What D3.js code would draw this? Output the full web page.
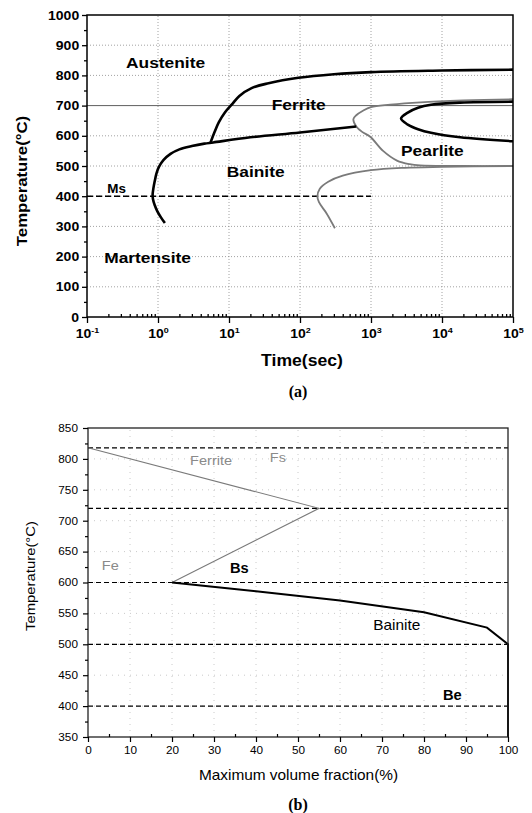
<!DOCTYPE html>
<html>
<head>
<meta charset="utf-8">
<script src="https://cdn.jsdelivr.net/npm/d3@7"></script>
<style>
  body { margin: 0; background: #fff; }
  svg { display: block; }
</style>
</head>
<body>
<svg id="chart" width="532" height="813"></svg>
<script>
// ---- (a) transformation diagram: time (s) / temperature (°C) ----
const timeTicks = [0.1, 1, 10, 100, 1000, 10000, 100000];
const timeTickExp = ["-1", "0", "1", "2", "3", "4", "5"];
const tempTicksA = [0, 100, 200, 300, 400, 500, 600, 700, 800, 900, 1000];

const bainiteStartTime = [1.25, 1.1, 0.98, 0.9, 0.85, 0.84, 0.86, 0.9, 0.95, 1.03, 1.2, 1.5, 2, 3, 4.5, 6, 20, 100, 620];
const bainiteStartTemp = [311, 330, 350, 370, 390, 405, 425, 450, 475, 497, 520, 540, 555, 566, 574, 578, 595, 611, 631];

const ferriteStartTime = [5.5, 6.2, 7.2, 8.8, 10.9, 14, 20.8, 36, 95, 300, 1000, 10000, 100000];
const ferriteStartTemp = [578, 610, 645, 678, 703, 732, 758, 774, 792, 804, 811, 816, 819];

const pearliteStartTime = [100000, 20000, 5000, 1860, 1000, 770, 620, 565, 620, 750, 975, 1480, 2320, 3500, 4900, 20000, 100000];
const pearliteStartTemp = [721, 717, 711, 703, 695, 683, 668, 655, 631, 613, 597, 550, 518, 506, 502, 500, 500];

const pearliteFinishTime = [100000, 18000, 7000, 4600, 3300, 2650, 3300, 4600, 7000, 18000, 100000];
const pearliteFinishTemp = [713, 710, 703, 693, 677, 657, 637, 622, 610, 595, 582];

const bainiteFinishTime = [310, 237, 185, 176, 190, 250, 400, 1000, 3000, 10000, 100000];
const bainiteFinishTemp = [294, 343, 380, 400, 425, 448, 468, 486, 494, 497, 500];

const msTemp = 400;
const msEndTime = 1000;

// ---- (b) maximum volume fraction / temperature ----
const fractionTicks = [0, 10, 20, 30, 40, 50, 60, 70, 80, 90, 100];
const tempTicksB = [350, 400, 450, 500, 550, 600, 650, 700, 750, 800, 850];
const boundaryTemps = [818, 720, 600, 500, 400];

const ferriteFraction = [0, 55, 20];
const ferriteTemp = [818, 720, 600];

const bainiteFraction = [20, 40, 60, 80, 95, 100, 100];
const bainiteTemp = [600, 586, 571, 552, 527, 500, 350];

const svg = d3.select("#chart");
const SANS = "'Liberation Sans', Arial, Helvetica, sans-serif";
const SERIF = "'Liberation Serif', 'Times New Roman', serif";
const zip = (a, b) => a.map((v, i) => [v, b[i]]);

function label(g, x, y, text, size, weight, fill, sx) {
  return g.append("text")
    .attr("transform", `translate(${x},${y}) scale(${sx || 1.12},1)`)
    .attr("font-family", SANS)
    .attr("font-size", size)
    .attr("font-weight", weight)
    .attr("fill", fill)
    .text(text);
}

// ================= panel (a) =================
const xA = d3.scaleLog().domain([0.1, 100000]).range([87, 513]);
const yA = d3.scaleLinear().domain([0, 1000]).range([317, 15]);
const gA = svg.append("g");

// grid
gA.selectAll(".vgrid").data(timeTicks.slice(1, -1)).join("line")
  .attr("x1", d => xA(d)).attr("x2", d => xA(d))
  .attr("y1", yA(0)).attr("y2", yA(1000))
  .attr("stroke", "#8a8a8a").attr("stroke-width", 0.8).attr("stroke-dasharray", "1,2");
gA.selectAll(".hgrid").data(tempTicksA.slice(1, -1)).join("line")
  .attr("x1", xA(0.1)).attr("x2", xA(100000))
  .attr("y1", d => yA(d)).attr("y2", d => yA(d))
  .attr("stroke", d => d === 700 ? "#333" : "#8a8a8a")
  .attr("stroke-width", 0.8)
  .attr("stroke-dasharray", d => d === 700 ? null : "1,2");

// Ms line
gA.append("line")
  .attr("x1", xA(0.1)).attr("x2", xA(msEndTime))
  .attr("y1", yA(msTemp)).attr("y2", yA(msTemp))
  .attr("stroke", "#000").attr("stroke-width", 1.4).attr("stroke-dasharray", "6,3");

const lineA = d3.line().x(d => xA(d[0])).y(d => yA(d[1])).curve(d3.curveCatmullRom.alpha(0.5));

gA.append("path").datum(zip(pearliteStartTime, pearliteStartTemp))
  .attr("d", lineA).attr("fill", "none").attr("stroke", "#7a7a7a").attr("stroke-width", 1.8);
gA.append("path").datum(zip(bainiteFinishTime, bainiteFinishTemp))
  .attr("d", lineA).attr("fill", "none").attr("stroke", "#7a7a7a").attr("stroke-width", 1.8);
gA.append("path").datum(zip(bainiteStartTime, bainiteStartTemp))
  .attr("d", lineA).attr("fill", "none").attr("stroke", "#000").attr("stroke-width", 2.6);
gA.append("path").datum(zip(ferriteStartTime, ferriteStartTemp))
  .attr("d", lineA).attr("fill", "none").attr("stroke", "#000").attr("stroke-width", 2.6);
gA.append("path").datum(zip(pearliteFinishTime, pearliteFinishTemp))
  .attr("d", lineA).attr("fill", "none").attr("stroke", "#000").attr("stroke-width", 2.6);

// frame
gA.append("rect")
  .attr("x", xA(0.1)).attr("y", yA(1000))
  .attr("width", xA(100000) - xA(0.1)).attr("height", yA(0) - yA(1000))
  .attr("fill", "none").attr("stroke", "#000").attr("stroke-width", 1.5);

// axes
const axA = gA.append("g").attr("transform", `translate(0,${yA(0)})`)
  .call(d3.axisBottom(xA).tickValues(timeTicks).tickSize(6).tickPadding(6).tickFormat(() => ""));
axA.selectAll(".tick text").each(function (d, i) {
  const t = d3.select(this);
  t.append("tspan").text("10");
  t.append("tspan").attr("dy", "-0.55em").attr("font-size", 8).text(timeTickExp[i]);
});
gA.append("g").attr("transform", `translate(0,${yA(0)})`)
  .call(d3.axisBottom(xA).tickValues(xA.ticks().filter(d => !timeTicks.includes(d))).tickSize(-3).tickFormat(() => ""));
const ayA = gA.append("g").attr("transform", `translate(${xA(0.1)},0)`)
  .call(d3.axisLeft(yA).tickValues(tempTicksA).tickSize(5).tickPadding(2).tickFormat(d3.format("d")));
gA.append("g").attr("transform", `translate(${xA(0.1)},0)`)
  .call(d3.axisLeft(yA).tickValues(d3.range(50, 1000, 100)).tickSize(3).tickFormat(() => ""));

gA.selectAll(".domain").remove();
gA.selectAll(".tick line").attr("stroke", "#000").attr("stroke-width", 1.3);
[axA, ayA].forEach(a => a.selectAll(".tick text")
  .attr("font-family", SANS).attr("font-size", 12.5).attr("font-weight", "bold")
  .attr("fill", "#000").attr("transform", "scale(1.12,1)"));

// region labels
label(gA, xA(0.355), yA(824), "Austenite", 15.5, "bold", "#000");
label(gA, xA(40), yA(685), "Ferrite", 15.5, "bold", "#000");
label(gA, xA(9.3), yA(464), "Bainite", 15.5, "bold", "#000");
label(gA, xA(2650), yA(533), "Pearlite", 15.5, "bold", "#000");
label(gA, xA(0.193), yA(411), "Ms", 12, "bold", "#000");
label(gA, xA(0.175), yA(179), "Martensite", 15.5, "bold", "#000");

// axis titles
gA.append("text")
  .attr("transform", `translate(27,181) rotate(-90) scale(1.12,1)`)
  .attr("text-anchor", "middle").attr("font-family", SANS)
  .attr("font-size", 15).attr("font-weight", "bold").text("Temperature(°C)");
gA.append("text")
  .attr("transform", `translate(302,366) scale(1.1,1)`)
  .attr("text-anchor", "middle").attr("font-family", SANS)
  .attr("font-size", 16).attr("font-weight", "bold").text("Time(sec)");
gA.append("text")
  .attr("x", 298).attr("y", 397).attr("text-anchor", "middle")
  .attr("font-family", SERIF).attr("font-size", 16).attr("font-weight", "bold").text("(a)");

// ================= panel (b) =================
const xB = d3.scaleLinear().domain([0, 100]).range([88, 508]);
const yB = d3.scaleLinear().domain([350, 850]).range([737, 428]);
const gB = svg.append("g");

gB.selectAll(".vgrid").data(fractionTicks.slice(1, -1)).join("line")
  .attr("x1", d => xB(d)).attr("x2", d => xB(d))
  .attr("y1", yB(350)).attr("y2", yB(850))
  .attr("stroke", "#bdbdbd").attr("stroke-width", 0.8).attr("stroke-dasharray", "1,5");
gB.selectAll(".hgrid").data(tempTicksB.slice(1, -1)).join("line")
  .attr("x1", xB(0)).attr("x2", xB(100))
  .attr("y1", d => yB(d)).attr("y2", d => yB(d))
  .attr("stroke", "#bdbdbd").attr("stroke-width", 0.8).attr("stroke-dasharray", "1,5");

gB.selectAll(".boundary").data(boundaryTemps).join("line")
  .attr("x1", xB(0)).attr("x2", xB(100))
  .attr("y1", d => yB(d)).attr("y2", d => yB(d))
  .attr("stroke", "#000").attr("stroke-width", 1.2).attr("stroke-dasharray", "5,3");

const lineB = d3.line().x(d => xB(d[0])).y(d => yB(d[1]));
gB.append("path").datum(zip(ferriteFraction, ferriteTemp))
  .attr("d", lineB).attr("fill", "none").attr("stroke", "#7a7a7a").attr("stroke-width", 1.1);
gB.append("path").datum(zip(bainiteFraction, bainiteTemp))
  .attr("d", lineB).attr("fill", "none").attr("stroke", "#000").attr("stroke-width", 2);

gB.append("rect")
  .attr("x", xB(0)).attr("y", yB(850))
  .attr("width", xB(100) - xB(0)).attr("height", yB(350) - yB(850))
  .attr("fill", "none").attr("stroke", "#222").attr("stroke-width", 1.3);

const axB = gB.append("g").attr("transform", `translate(0,${yB(350)})`)
  .call(d3.axisBottom(xB).tickValues(fractionTicks).tickSize(5).tickPadding(5));
gB.append("g").attr("transform", `translate(0,${yB(350)})`)
  .call(d3.axisBottom(xB).tickValues(d3.range(5, 100, 10)).tickSize(-3).tickFormat(() => ""));
const ayB = gB.append("g").attr("transform", `translate(${xB(0)},0)`)
  .call(d3.axisLeft(yB).tickValues(tempTicksB).tickSize(5).tickPadding(4));
gB.append("g").attr("transform", `translate(${xB(0)},0)`)
  .call(d3.axisLeft(yB).tickValues(d3.range(375, 850, 50)).tickSize(3).tickFormat(() => ""));

gB.selectAll(".domain").remove();
gB.selectAll(".tick line").attr("stroke", "#000").attr("stroke-width", 1.2);
[axB, ayB].forEach(a => a.selectAll(".tick text")
  .attr("font-family", SANS).attr("font-size", 10.5)
  .attr("fill", "#000").attr("transform", "scale(1.12,1)"));

label(gB, xB(24.3), yB(790), "Ferrite", 13, "normal", "#8a8a8a");
label(gB, xB(43.3), yB(795), "Fs", 13, "normal", "#8a8a8a");
label(gB, xB(3.3), yB(620), "Fe", 13, "normal", "#8a8a8a");
label(gB, xB(33.8), yB(615), "Bs", 14, "bold", "#000", 1.05);
label(gB, xB(67.9), yB(523), "Bainite", 14, "normal", "#000", 1.1);
label(gB, xB(84.5), yB(410), "Be", 14, "bold", "#000", 1.05);

gB.append("text")
  .attr("transform", `translate(35,576) rotate(-90) scale(1.1,1)`)
  .attr("text-anchor", "middle").attr("font-family", SANS)
  .attr("font-size", 13.5).text("Temperature(°C)");
gB.append("text")
  .attr("transform", `translate(298.5,780) scale(1.1,1)`)
  .attr("text-anchor", "middle").attr("font-family", SANS)
  .attr("font-size", 14).text("Maximum volume fraction(%)");
gB.append("text")
  .attr("x", 298).attr("y", 810).attr("text-anchor", "middle")
  .attr("font-family", SERIF).attr("font-size", 16).attr("font-weight", "bold").text("(b)");
</script>
</body>
</html>
